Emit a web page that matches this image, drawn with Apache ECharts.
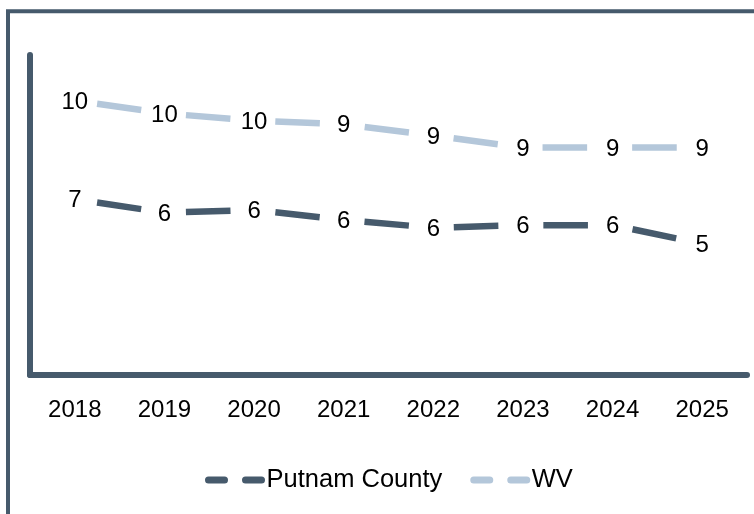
<!DOCTYPE html>
<html>
<head>
<meta charset="utf-8">
<script src="https://cdn.jsdelivr.net/npm/echarts@6/dist/echarts.min.js"></script>
<style>
html,body{margin:0;padding:0;background:#fff;}
#chart{width:754px;height:514px;}
</style>
</head>
<body>
<div id="chart"></div>
<script>
var categories = ['2018','2019','2020','2021','2022','2023','2024','2025'];
var putnamValues = [6.59, 6.09, 6.19, 5.82, 5.52, 5.62, 5.62, 4.92];
var wvValues = [10.29, 9.81, 9.54, 9.40, 8.98, 8.53, 8.53, 8.53];
var seriesNames = ['Putnam County', 'WV'];

var DARK = '#465a6c';
var LIGHT = '#b4c7da';
var FONT = 'Liberation Sans';

var chart = echarts.init(document.getElementById('chart'), null, {renderer: 'canvas'});

function makeSeries(name, data, color) {
  return {
    name: name,
    type: 'line',
    data: data,
    symbol: 'circle',
    symbolSize: 2,
    itemStyle: {color: 'rgba(0,0,0,0)'},
    lineStyle: {color: color, width: 6.5, type: [44.6, 45], dashOffset: 67.1, cap: 'butt'},
    label: {
      show: true,
      position: 'inside',
      offset: [0, 1.5],
      color: '#000',
      fontFamily: FONT,
      fontSize: 24,
      formatter: function (p) { return Math.round(p.value); }
    },
    emphasis: {disabled: true},
    animation: false
  };
}

chart.setOption({
  animation: false,
  graphic: [{
    type: 'rect',
    shape: {x: 8, y: 11.3, width: 800, height: 600},
    style: {fill: 'none', stroke: DARK, lineWidth: 4},
    silent: true
  }],
  grid: {left: 30, right: 7, top: 55, bottom: 139, containLabel: false},
  xAxis: {
    type: 'category',
    data: categories,
    boundaryGap: true,
    axisLine: {show: true, lineStyle: {color: DARK, width: 6}},
    axisTick: {show: false},
    axisLabel: {color: '#000', fontFamily: FONT, fontSize: 24, margin: 23}
  },
  yAxis: {
    type: 'value',
    min: 0,
    max: 12,
    interval: 12,
    axisLine: {show: true, lineStyle: {color: DARK, width: 6}},
    axisTick: {show: false},
    axisLabel: {show: false},
    splitLine: {show: false}
  },
  legend: {
    data: seriesNames,
    left: 197,
    top: 462,
    itemWidth: 60,
    itemHeight: 14,
    itemGap: 25,
    lineStyle: {width: 7, type: [16, 21], dashOffset: -3, cap: 'round'},
    textStyle: {color: '#000', fontFamily: FONT, fontSize: 25.5, padding: [0, 0, 0, -4]}
  },
  series: [
    makeSeries(seriesNames[0], putnamValues, DARK),
    makeSeries(seriesNames[1], wvValues, LIGHT)
  ]
});
</script>
</body>
</html>
